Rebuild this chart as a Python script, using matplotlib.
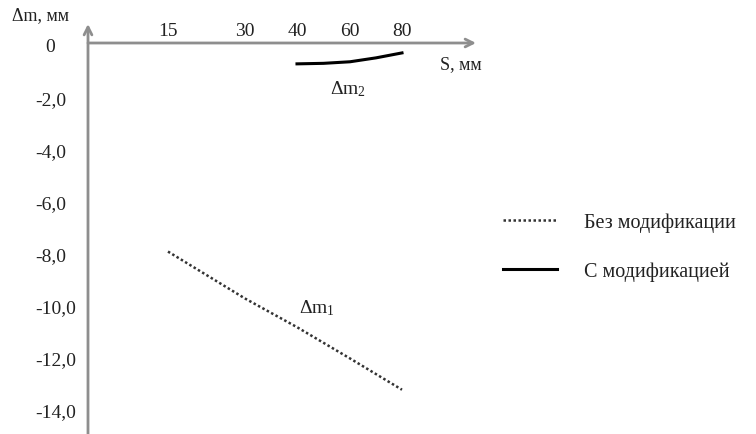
import numpy as np
import matplotlib
matplotlib.use('Agg')
import matplotlib.pyplot as plt
import matplotlib.transforms as mtransforms

plt.rcParams['font.family'] = ['Liberation Serif', 'DejaVu Serif']
plt.rcParams['mathtext.fontset'] = 'custom'
plt.rcParams['mathtext.rm'] = 'Liberation Serif'
plt.rcParams['mathtext.it'] = 'Liberation Serif:italic'
plt.rcParams['text.color'] = '#222222'

# ход S, мм
s_ticks = [15, 30, 40, 60, 80]
y_ticks = [0, -2, -4, -6, -8, -10, -12, -14]
y_labels = ['0', '-2,0', '-4,0', '-6,0', '-8,0', '-10,0', '-12,0', '-14,0']

# без модификации
s1 = [15, 30, 40, 60, 80]
dm1 = [-8.0, -9.8, -10.9, -12.1, -13.3]

# с модификацией
s2 = [40, 50, 60, 70, 80]
dm2 = [-0.80, -0.78, -0.72, -0.57, -0.38]

# неравномерная шкала по оси S (пиксели от начала оси)
s_knots = [-50, 0, 15, 30, 40, 60, 80, 120, 300]
px_knots = [-130, 0, 80, 157, 209, 262, 314, 418, 886]


def fwd(x):
    return np.interp(x, s_knots, px_knots)


def inv(p):
    return np.interp(p, px_knots, s_knots)


W, H = 756, 435
fig = plt.figure(figsize=(W / 100, H / 100), dpi=100)
ax = fig.add_axes([88 / W, 0, (W - 88) / W, 1])
ax.set_xscale('function', functions=(fwd, inv))
ax.set_xlim(0, inv(W - 88))
ppu = 26.07
ax.set_ylim(-(H - 44) / ppu, 44 / ppu)
ax.axis('off')

ax_col = '#8e8e8e'
# оси со стрелками
ax.annotate('', xy=(inv(388), 0), xytext=(0, 0),
            arrowprops=dict(arrowstyle='->', color=ax_col, lw=2.0,
                            mutation_scale=14, shrinkA=0, shrinkB=0))
ax.annotate('', xy=(0, 19 / ppu), xytext=(0, -(H - 44) / ppu),
            arrowprops=dict(arrowstyle='->', color=ax_col, lw=2.0,
                            mutation_scale=14, shrinkA=0, shrinkB=0))

l1, = ax.plot(s1, dm1, color='#333333', lw=1.8, linestyle=(0, (1, 1)),
              label='Без модификации')
l2, = ax.plot(s2, dm2, color='black', lw=2.2, label='С модификацией')

# подписи делений
for s in s_ticks:
    ax.text(s, 0, str(s), ha='center', va='center', fontsize=14,
            transform=mtransforms.offset_copy(ax.transData, fig, x=0, y=13, units='dots'))

lbl_tr = mtransforms.blended_transform_factory(fig.transFigure, ax.transData)
lbl_tr = mtransforms.offset_copy(lbl_tr, fig, x=0, y=-4, units='dots')
for v, t in zip(y_ticks, y_labels):
    if v == 0:
        ax.text(50 / W, v, t, ha='center', va='center', fontsize=14, transform=lbl_tr)
    else:
        ax.text(35 / W, v, t, ha='left', va='center', fontsize=14, transform=lbl_tr)

fig.text(12 / W, 1 - 16 / H, 'Δm, мм', ha='left', va='center', fontsize=13)
fig.text(440 / W, 1 - 65 / H, 'S, мм', ha='left', va='center', fontsize=13)
fig.text(348 / W, 1 - 89 / H, 'Δm$_2$', ha='center', va='center', fontsize=14)
fig.text(317 / W, 1 - 308 / H, 'Δm$_1$', ha='center', va='center', fontsize=14)

leg = fig.legend(handles=[l1, l2], loc='center left',
                 bbox_to_anchor=(503 / W, 1 - 247.5 / H), frameon=False,
                 fontsize=14.5, handlelength=2.7, handletextpad=1.3,
                 labelspacing=1.45, borderpad=0, borderaxespad=0)

fig.savefig('out.png', dpi=100)
